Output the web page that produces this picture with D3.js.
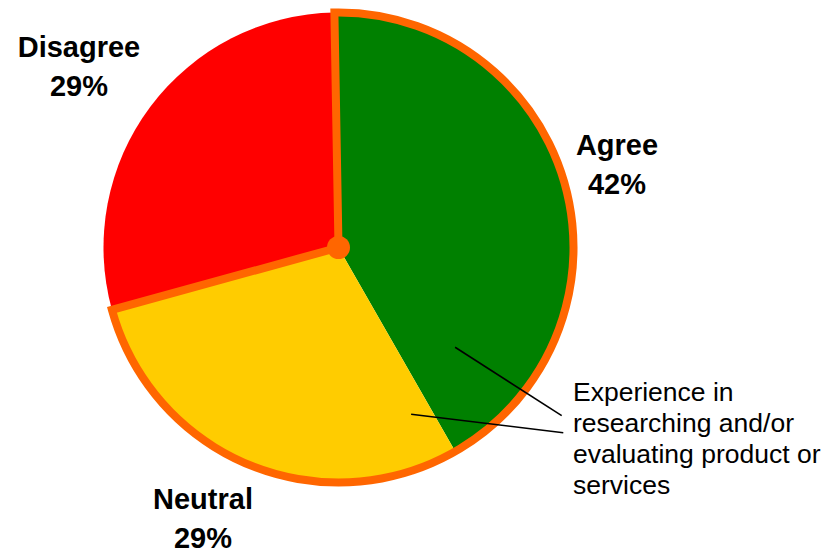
<!DOCTYPE html>
<html>
<head>
<meta charset="utf-8">
<script src="https://cdn.jsdelivr.net/npm/d3@7"></script>
<style>
  html, body { margin: 0; padding: 0; background: #fff; }
  svg { display: block; font-family: "Liberation Sans", Arial, sans-serif; }
</style>
</head>
<body>
<svg id="chart" width="825" height="555"></svg>
<script>
// Survey responses (percent)
const categories = ["Agree", "Neutral", "Disagree"];
const values = [42, 29, 29];
const colors = ["#008000", "#FFCC00", "#FF0000"];
// Slices grouped under the highlighted outline
const highlighted = ["Agree", "Neutral"];
const noteLines = ["Experience in", "researching and/or", "evaluating product or", "services"];

const width = 825, height = 555;
const cx = 338.5, cy = 247.5, radius = 235;
const outline = "#FF6600";

const svg = d3.select("#chart");
const g = svg.append("g").attr("transform", `translate(${cx},${cy})`);

const data = categories.map((c, i) => ({ name: c, value: values[i], color: colors[i] }));
const pie = d3.pie().value(d => d.value).sort(null)
  .startAngle(-1 * Math.PI / 180)
  .endAngle(359 * Math.PI / 180);
const arcs = pie(data);
const arc = d3.arc().innerRadius(0).outerRadius(radius);

// Slices
g.selectAll("path.slice")
  .data(arcs)
  .enter().append("path")
  .attr("class", "slice")
  .attr("d", arc)
  .attr("fill", d => d.data.color);

// Outline around the highlighted group of slices
const hl = arcs.filter(a => highlighted.includes(a.data.name));
const groupArc = {
  startAngle: d3.min(hl, a => a.startAngle),
  endAngle: d3.max(hl, a => a.endAngle)
};
g.append("path")
  .attr("d", arc(groupArc))
  .attr("fill", "none")
  .attr("stroke", outline)
  .attr("stroke-width", 8)
  .attr("stroke-linejoin", "miter")
  .attr("stroke-miterlimit", 10);

g.append("circle").attr("r", 11.5).attr("fill", outline);

// Category labels
const labelPos = {
  Agree: [617, 155],
  Neutral: [203, 509],
  Disagree: [79, 57]
};
arcs.forEach(a => {
  const [x, y] = labelPos[a.data.name];
  const t = svg.append("text")
    .attr("text-anchor", "middle")
    .attr("font-weight", "bold")
    .attr("font-size", 29)
    .attr("fill", "#000");
  t.append("tspan").attr("x", x).attr("y", y).text(a.data.name);
  t.append("tspan").attr("x", x).attr("y", y + 39).text(a.data.value + "%");
});

// Note with leader lines pointing into the highlighted slices
const noteX = 573, noteY0 = 401, noteDy = 31;
const note = svg.append("text").attr("font-size", 26.5).attr("fill", "#000");
noteLines.forEach((s, i) => {
  note.append("tspan").attr("x", noteX).attr("y", noteY0 + i * noteDy).text(s);
});

// Leader anchors: angle inside each slice (fraction of its span) and radius fraction
const leaders = [
  { name: "Agree", frac: 0.87, rFrac: 0.653, end: [561.7, 415.7] },
  { name: "Neutral", frac: 0.06, rFrac: 0.774, end: [563.3, 432.7] }
];
leaders.forEach(l => {
  const a = arcs.find(d => d.data.name === l.name);
  const ang = a.startAngle + (a.endAngle - a.startAngle) * l.frac;
  const r = radius * l.rFrac;
  const x0 = cx + r * Math.sin(ang), y0 = cy - r * Math.cos(ang);
  svg.append("line")
    .attr("x1", x0).attr("y1", y0)
    .attr("x2", l.end[0]).attr("y2", l.end[1])
    .attr("stroke", "#000").attr("stroke-width", 1.6);
});
</script>
</body>
</html>
